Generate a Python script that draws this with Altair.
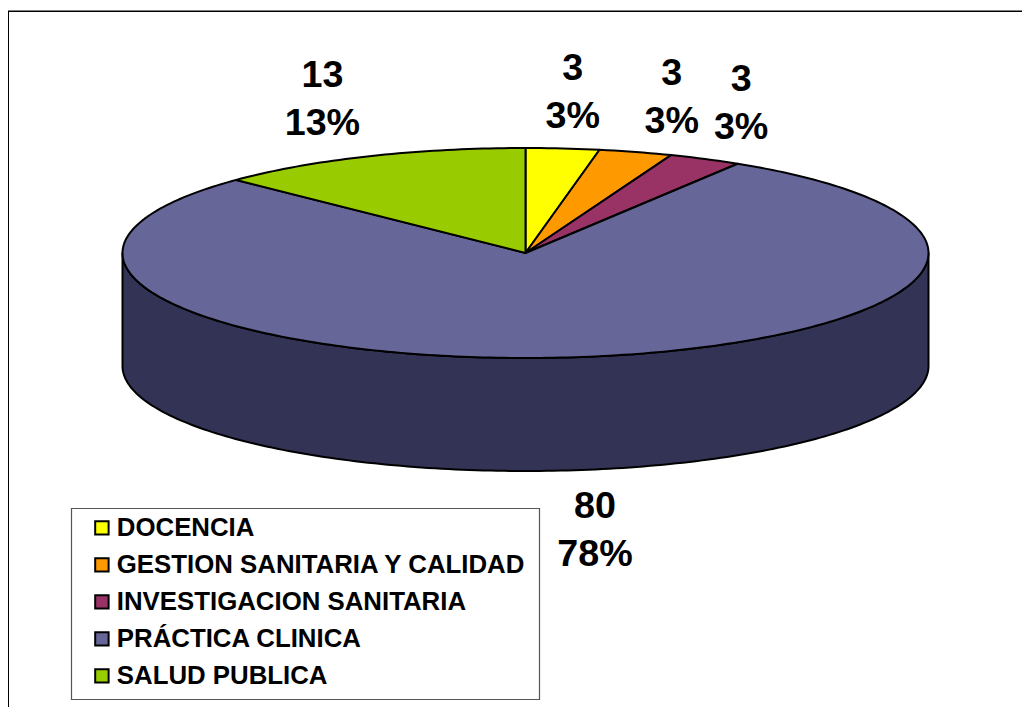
import math
import altair as alt
import pandas as pd

categories = ["DOCENCIA", "GESTION SANITARIA Y CALIDAD", "INVESTIGACION SANITARIA", "PRÁCTICA CLINICA", "SALUD PUBLICA"]
values = [3, 3, 3, 80, 13]
percents = ["3%", "3%", "3%", "78%", "13%"]
colors = ["#FFFF00", "#FF9900", "#993366", "#666699", "#99CC00"]
wall_color = "#333355"

# pie geometry (page-pixel data space)
CX, CY, RX, RY, DEPTH = 525.5, 253, 403, 105, 113
W, H = 1014, 699
label_offsets = [(10, -79), (36, -78), (36, -79), (20, 150), (-46, -80)]


def rim(deg, dy=0):
    a = math.radians(deg)
    return CX + RX * math.sin(a), CY - RY * math.cos(a) + dy


total = sum(values)
rows, label_rows = [], []
start = 0.0
for cat, v, pct in zip(categories, values, percents):
    ext = 360 * v / total
    pts = [(CX, CY)]
    n = max(2, int(ext))
    pts += [rim(start + ext * j / n) for j in range(n + 1)]
    for i, (x, y) in enumerate(pts):
        rows.append({"cat": cat, "i": i, "x": x, "y": y})
    lx, ly = rim(start + ext / 2)
    label_rows.append({"x": lx, "y": ly, "t": f"{v}\n{pct}"})
    start += ext

wall = [rim(d) for d in range(90, 271, 1)] + [rim(d, DEPTH) for d in range(270, 89, -1)]
wall_df = pd.DataFrame([{"i": i, "x": x, "y": y} for i, (x, y) in enumerate(wall)])

xs = alt.Scale(domain=[8, 8 + W], range=[0, W], nice=False, zero=False)
ys = alt.Scale(domain=[8 + H, 8], range=[H, 0], nice=False, zero=False)
X = alt.X("x:Q", scale=xs, axis=None)
Y = alt.Y("y:Q", scale=ys, axis=None)

one = pd.DataFrame({"a": [0]})
frame_left = alt.Chart(one).mark_rule(color="black", strokeWidth=2).encode(
    x=alt.value(0), y=alt.value(3), y2=alt.value(H))
frame_top = alt.Chart(one).mark_rule(color="black", strokeWidth=1.5).encode(
    y=alt.value(3.2), x=alt.value(0), x2=alt.value(W))
legend_box = alt.Chart(one).mark_rect(fill="white", stroke="#555555", strokeWidth=1.2).encode(
    x=alt.value(63.5), x2=alt.value(531.5), y=alt.value(500.5), y2=alt.value(691.5))

wall_layer = alt.Chart(wall_df).mark_line(
    interpolate="linear-closed", stroke="black", strokeWidth=2, fill=wall_color, strokeJoin="round"
).encode(x=X, y=Y, order="i:Q")

pie = alt.Chart(pd.DataFrame(rows)).mark_line(
    interpolate="linear-closed", stroke="black", strokeWidth=2, strokeJoin="round"
).encode(
    x=X, y=Y, order="i:Q",
    fill=alt.Fill("cat:N", scale=alt.Scale(domain=categories, range=colors), sort=None,
                  legend=alt.Legend(
                      title=None, orient="none", legendX=81, legendY=507, padding=0,
                      symbolType="square", symbolSize=180, symbolStrokeColor="black",
                      symbolStrokeWidth=2,
                      labelFont="Liberation Sans", labelFontWeight="bold", labelFontSize=25.8,
                      labelColor="black", labelLimit=0, rowPadding=10, labelOffset=2,
                  )),
)

texts = []
for row, (dx, dy) in zip(label_rows, label_offsets):
    texts.append(alt.Chart(pd.DataFrame([row])).mark_text(
        font="Liberation Sans", fontWeight="bold", fontSize=37.7, color="black",
        align="center", baseline="middle", lineBreak="\n", lineHeight=47.5, dx=dx, dy=dy,
    ).encode(x=X, y=Y, text="t:N"))

chart = alt.layer(frame_left, frame_top, legend_box, wall_layer, pie, *texts).properties(
    width=W, height=H, padding=0, autosize=alt.AutoSizeParams(type="none"), background="white"
).configure_view(stroke=None)

chart.save("out.html", embed_options={"renderer": "svg", "actions": False})
